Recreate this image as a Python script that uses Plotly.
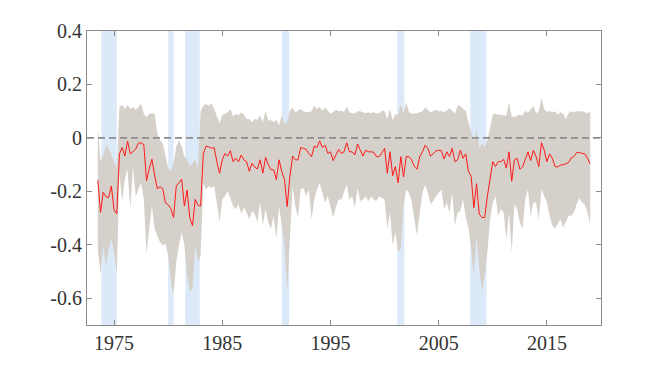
import plotly.graph_objects as go

start_year = 1973.5
quarter_step = 0.25

median = [
    -0.159, -0.279, -0.203, -0.220, -0.224, -0.180, -0.269, -0.284, -0.060, -0.036,
    -0.068, -0.012, -0.060, -0.052, -0.042, -0.020, -0.018, -0.025, -0.160, -0.115,
    -0.080, -0.140, -0.190, -0.183, -0.190, -0.243, -0.250, -0.265, -0.298, -0.180,
    -0.167, -0.155, -0.255, -0.195, -0.300,
    -0.328, -0.230, -0.252, -0.255, -0.058, -0.031, -0.033, -0.039, -0.036, -0.089,
    -0.132, -0.082, -0.058, -0.068, -0.048, -0.089, -0.076, -0.089, -0.064, -0.082,
    -0.089, -0.125, -0.095, -0.109, -0.116, -0.082, -0.132, -0.073, -0.100, -0.119,
    -0.119, -0.156, -0.082, -0.125, -0.156, -0.257, -0.144, -0.068, -0.082,
    -0.082, -0.036, -0.039, -0.043, -0.058, -0.070, -0.031, -0.036, -0.011, -0.036,
    -0.027, -0.058, -0.052, -0.085, -0.064, -0.043, -0.058, -0.052, -0.018, -0.052,
    -0.052, -0.064, -0.023, -0.046, -0.068, -0.046, -0.052, -0.052, -0.054, -0.070,
    -0.070, -0.055, -0.039, -0.132, -0.052, -0.141, -0.107, -0.168,
    -0.070, -0.146, -0.070, -0.070, -0.082, -0.107, -0.117, -0.070, -0.052, -0.027,
    -0.039, -0.068, -0.058, -0.049, -0.046, -0.048, -0.079, -0.052, -0.070, -0.039,
    -0.089, -0.082, -0.046, -0.076, -0.060, -0.125, -0.144, -0.261, -0.171, -0.285,
    -0.298, -0.298, -0.218, -0.144, -0.089, -0.107, -0.089, -0.089, -0.080,
    -0.113, -0.052, -0.162, -0.082, -0.076, -0.117, -0.109, -0.082, -0.052, -0.085,
    -0.046, -0.070, -0.107, -0.018, -0.046, -0.089, -0.060, -0.076, -0.107, -0.109,
    -0.101, -0.101, -0.097, -0.092, -0.074, -0.070, -0.055, -0.054, -0.058, -0.060,
    -0.076, -0.097,
]

upper = [
    0.038, -0.089, -0.064, -0.027, -0.039, -0.064, -0.089, -0.113, 0.117, 0.124,
    0.108, 0.124, 0.108, 0.117, 0.105, 0.114, 0.129, 0.090, 0.077, 0.090,
    0.092, 0.090, 0.016, -0.009, -0.021, -0.070, -0.113, -0.125, -0.095, -0.033,
    -0.009, -0.033, -0.070, -0.082, -0.107,
    -0.095, -0.082, -0.119, 0.100, 0.120, 0.127, 0.120, 0.129, 0.108, 0.084,
    0.055, 0.087, 0.090, 0.096, 0.108, 0.080, 0.090, 0.084, 0.096, 0.087,
    0.071, 0.071, 0.059, 0.071, 0.068, 0.084, 0.059, 0.102, 0.063, 0.068,
    0.059, 0.068, 0.047, 0.084, 0.053, 0.059, 0.102, 0.114, 0.096,
    0.102, 0.108, 0.100, 0.096, 0.096, 0.100, 0.120, 0.108, 0.117, 0.102,
    0.114, 0.102, 0.090, 0.096, 0.105, 0.100, 0.102, 0.096, 0.117, 0.096,
    0.092, 0.092, 0.100, 0.100, 0.096, 0.092, 0.096, 0.092, 0.096, 0.092,
    0.092, 0.102, 0.100, 0.071, 0.108, 0.065, 0.090, 0.084,
    0.127, 0.090, 0.133, 0.096, 0.090, 0.090, 0.092, 0.096, 0.100, 0.114,
    0.105, 0.096, 0.102, 0.105, 0.100, 0.102, 0.096, 0.105, 0.111, 0.102,
    0.090, 0.120, 0.120, 0.108, 0.102, 0.059, 0.016, -0.015, 0.031, -0.039,
    -0.021, -0.033, -0.009, 0.041, 0.087, 0.090, 0.087, 0.087, 0.084,
    0.084, 0.133, 0.080, 0.077, 0.084, 0.087, 0.084, 0.102, 0.092, 0.108,
    0.120, 0.092, 0.100, 0.149, 0.108, 0.096, 0.102, 0.096, 0.100, 0.087,
    0.096, 0.090, 0.071, 0.092, 0.100, 0.096, 0.100, 0.100, 0.100, 0.096,
    0.092, 0.100,
]

lower = [
    -0.420, -0.510, -0.400, -0.476, -0.415, -0.380, -0.430, -0.510, -0.130, -0.240,
    -0.150, -0.120, -0.267, -0.107, -0.218, -0.193, -0.168, -0.230, -0.433, -0.340,
    -0.255, -0.340, -0.365, -0.390, -0.402, -0.396, -0.440, -0.537, -0.587, -0.464,
    -0.402, -0.353, -0.402, -0.513, -0.574,
    -0.562, -0.400, -0.464, -0.440, -0.168, -0.193, -0.180, -0.187, -0.180, -0.242,
    -0.316, -0.230, -0.218, -0.199, -0.230, -0.255, -0.267, -0.248, -0.285, -0.260,
    -0.279, -0.304, -0.273, -0.285, -0.316, -0.242, -0.328, -0.267, -0.316, -0.340,
    -0.291, -0.378, -0.255, -0.340, -0.402, -0.574, -0.390, -0.180, -0.255,
    -0.298, -0.193, -0.187, -0.218, -0.193, -0.304, -0.230, -0.193, -0.168, -0.205,
    -0.242, -0.218, -0.255, -0.298, -0.260, -0.230, -0.230, -0.205, -0.175, -0.230,
    -0.218, -0.260, -0.187, -0.236, -0.230, -0.218, -0.236, -0.218, -0.230, -0.236,
    -0.218, -0.224, -0.230, -0.340, -0.279, -0.402, -0.353, -0.427,
    -0.415, -0.255, -0.193, -0.205, -0.236, -0.304, -0.365, -0.279, -0.205, -0.175,
    -0.205, -0.248, -0.236, -0.218, -0.205, -0.193, -0.267, -0.242, -0.279, -0.205,
    -0.328, -0.279, -0.273, -0.230, -0.298, -0.335, -0.415, -0.513, -0.365, -0.488,
    -0.574, -0.513, -0.427, -0.304, -0.242, -0.218, -0.291, -0.267, -0.279,
    -0.378, -0.279, -0.427, -0.248, -0.267, -0.316, -0.340, -0.230, -0.193, -0.291,
    -0.242, -0.242, -0.304, -0.193, -0.218, -0.242, -0.291, -0.328, -0.340, -0.322,
    -0.304, -0.335, -0.316, -0.291, -0.291, -0.279, -0.248, -0.224, -0.242, -0.248,
    -0.279, -0.328,
]

years = [start_year + quarter_step * i for i in range(len(median))]

recession_starts = [1973.83, 1980.0, 1981.58, 1990.5, 2001.17, 2007.92]
recession_ends = [1975.25, 1980.5, 1982.92, 1991.17, 2001.83, 2009.42]

x_ticks = [1975, 1985, 1995, 2005, 2015]
y_ticks = [0.4, 0.2, 0, -0.2, -0.4, -0.6]
y_tick_labels = ["0.4", "0.2", "0", "-0.2", "-0.4", "-0.6"]

x_range = [1972.5, 2020.0]
y_range = [-0.7, 0.4]

fig = go.Figure()

fig.add_trace(go.Scatter(x=years, y=lower, mode="lines", line=dict(width=0),
                         hoverinfo="skip", showlegend=False))
fig.add_trace(go.Scatter(x=years, y=upper, mode="lines", line=dict(width=0),
                         fill="tonexty", fillcolor="#d5d0c9",
                         hoverinfo="skip", showlegend=False))
fig.add_trace(go.Scatter(x=x_range, y=[0, 0], mode="lines",
                         line=dict(color="#8c8c8c", width=1.8, dash="7px,4px"),
                         showlegend=False))
fig.add_trace(go.Scatter(x=years, y=median, mode="lines",
                         line=dict(color="#ff1a1a", width=1), showlegend=False))

for s, e in zip(recession_starts, recession_ends):
    fig.add_shape(type="rect", xref="x", yref="paper", x0=s, x1=e, y0=0, y1=1,
                  fillcolor="#dce9f8", line=dict(width=0), layer="below")

serif = "Liberation Serif, Times New Roman, serif"

axis_common = dict(
    showgrid=False, zeroline=False, showline=True, linecolor="#8a8a8a",
    linewidth=1, mirror="ticks", ticks="inside", ticklen=5, tickcolor="#8a8a8a",
    tickfont=dict(family=serif, size=20, color="#333333"),
)

fig.update_xaxes(range=x_range, tickvals=x_ticks, **axis_common)
fig.update_yaxes(range=y_range, tickvals=y_ticks, ticktext=y_tick_labels, **axis_common)

fig.update_layout(
    width=656, height=358,
    margin=dict(l=79, r=63, t=19, b=41),
    plot_bgcolor="white", paper_bgcolor="white",
    font=dict(family=serif),
    showlegend=False,
)

fig.write_html("out.html")
